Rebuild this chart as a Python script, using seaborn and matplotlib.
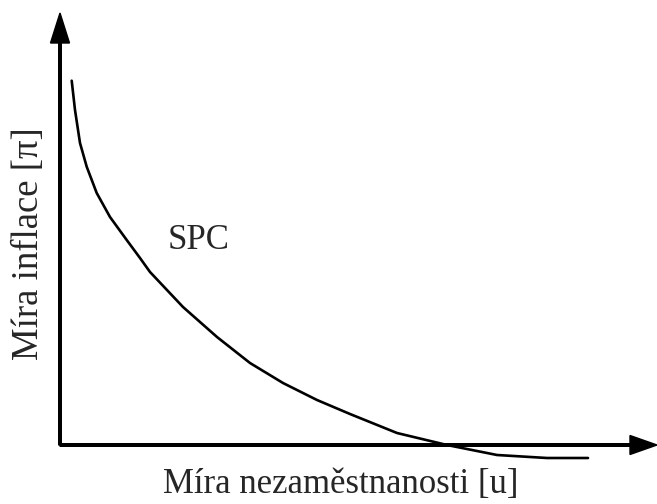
import matplotlib
matplotlib.use("Agg")
import matplotlib.pyplot as plt
import seaborn as sns
import pandas as pd

# Křivka SPC (krátkodobá Phillipsova křivka)
nezamestnanost = [0.117, 0.15, 0.20, 0.267, 0.367, 0.50, 0.667, 0.80, 0.90,
                  1.23, 1.57, 1.90, 2.23, 2.57, 2.90, 3.37, 3.87, 4.37,
                  4.87, 5.28]
inflace = [3.643, 3.35, 3.02, 2.783, 2.52, 2.28, 2.05, 1.87, 1.73,
           1.38, 1.08, 0.82, 0.62, 0.45, 0.31, 0.12, 0.00, -0.10,
           -0.13, -0.13]

popisek_x = "Míra nezaměstnanosti [u]"
popisek_y = "Míra inflace [π]"
popisek_krivky = "SPC"

sns.set_style("white")
plt.rcParams['font.family'] = ['Liberation Serif', 'DejaVu Serif']

df = pd.DataFrame({"u": nezamestnanost, "pi": inflace})

fig = plt.figure(figsize=(6.57, 5.04), dpi=100)
ax = fig.add_axes([0, 0, 1, 1])

sns.lineplot(data=df, x="u", y="pi", ax=ax, color="black", linewidth=1.9,
             sort=False)

# osy se šipkami
ax.arrow(0, 0, 0, 4.32, width=0.026, head_width=0.19, head_length=0.30,
         length_includes_head=True, fc="black", ec="black")
ax.arrow(0, 0, 5.97, 0, width=0.026, head_width=0.19, head_length=0.27,
         length_includes_head=True, fc="black", ec="black")

ax.text(1.39, 2.05, popisek_krivky, fontsize=25, ha="center", va="center")
ax.text(2.81, -0.40, popisek_x, fontsize=25, ha="center", va="center")
ax.text(-0.31, 2.01, popisek_y, fontsize=26.5, ha="center", va="center",
        rotation=90)

ax.set_xlim(-0.60, 5.97)
ax.set_ylim(-0.59, 4.45)
ax.axis("off")

plt.savefig("out.png", dpi=100)
